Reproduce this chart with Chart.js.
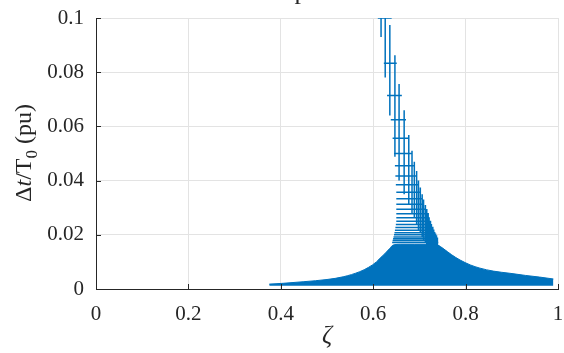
<!DOCTYPE html>
<html>
<head>
<meta charset="utf-8">
<script src="https://cdn.jsdelivr.net/npm/chart.js@4.4.0/dist/chart.umd.min.js"></script>
<style>
  html, body { margin: 0; padding: 0; background: #fff; }
  #wrap { width: 564px; height: 353px; }
</style>
</head>
<body>
<div id="wrap"><canvas id="plot"></canvas></div>
<script>
const xTicks = [0, 0.2, 0.4, 0.6, 0.8, 1];
const yTicks = [0, 0.02, 0.04, 0.06, 0.08, 0.1];

// dense part of the error bars, drawn as a filled band
const bandZeta   = [0.375, 0.405, 0.45, 0.50, 0.535, 0.571, 0.59, 0.607, 0.615, 0.625, 0.636, 0.643, 0.66, 0.69, 0.715, 0.728, 0.740, 0.751, 0.77, 0.788, 0.81, 0.831, 0.86, 0.896, 0.93, 0.96, 0.99];
const bandTop    = [0.0018, 0.0021, 0.0027, 0.0035, 0.0045, 0.0064, 0.008, 0.0100, 0.0114, 0.013, 0.0150, 0.0162, 0.0165, 0.0165, 0.0165, 0.0165, 0.0162, 0.0150, 0.0126, 0.0107, 0.0089, 0.0077, 0.0066, 0.0058, 0.0050, 0.0044, 0.0037];
const bandBottom = [0.0012, 0.0012, 0.0012, 0.0012, 0.0012, 0.0012, 0.0012, 0.0012, 0.0012, 0.0012, 0.0012, 0.0012, 0.0012, 0.0012, 0.0012, 0.0012, 0.0012, 0.0012, 0.0012, 0.0012, 0.0012, 0.0012, 0.0012, 0.0012, 0.0012, 0.0012, 0.0012];

// spike: points with both error bars (vertical bar at spikeZeta, horizontal bar at spikeDt)
const spikeZeta   = [0.617, 0.626, 0.636, 0.647, 0.656, 0.667, 0.677, 0.684, 0.689, 0.694, 0.698, 0.702, 0.706, 0.709, 0.713, 0.716, 0.719, 0.721, 0.724, 0.726, 0.729, 0.731, 0.733, 0.735, 0.737, 0.739];
const spikeDt     = [0.1, 0.1, 0.0833, 0.0714, 0.0625, 0.0556, 0.05, 0.0455, 0.0417, 0.0385, 0.0357, 0.0333, 0.0313, 0.0294, 0.0278, 0.0263, 0.025, 0.0238, 0.0227, 0.0217, 0.0208, 0.02, 0.0192, 0.0185, 0.0179, 0.0172];
const spikeDtLo   = [0.093, 0.078, 0.064, 0.0488, 0.040, 0.035, 0.031, 0.028, 0.026, 0.024, 0.022, 0.021, 0.019, 0.018, 0.017, 0.016, 0.015, 0.015, 0.014, 0.014, 0.013, 0.013, 0.012, 0.012, 0.012, 0.011];
const spikeDtHi   = [0.107, 0.122, 0.0974, 0.0863, 0.0756, 0.066, 0.0568, 0.051, 0.047, 0.0435, 0.040, 0.0375, 0.035, 0.033, 0.031, 0.0295, 0.028, 0.0265, 0.0252, 0.024, 0.023, 0.022, 0.021, 0.0205, 0.0198, 0.019];
const spikeZetaLo = [0.610, 0.612, 0.623, 0.630, 0.638, 0.642, 0.645, 0.647, 0.648, 0.649, 0.650, 0.650, 0.650, 0.650, 0.650, 0.650, 0.650, 0.649, 0.648, 0.647, 0.646, 0.645, 0.644, 0.643, 0.642, 0.641];
const spikeZetaHi = [0.636, 0.640, 0.651, 0.662, 0.671, 0.678, 0.685, 0.690, 0.695, 0.699, 0.703, 0.707, 0.710, 0.713, 0.717, 0.720, 0.722, 0.725, 0.727, 0.729, 0.731, 0.733, 0.735, 0.737, 0.739, 0.741];

const blue = '#0072BD';
const axisColor = '#262626';

function barSegments() {
  const pts = [];
  for (let i = 0; i < spikeZeta.length; i++) {
    pts.push({ x: spikeZeta[i], y: spikeDtLo[i] });
    pts.push({ x: spikeZeta[i], y: spikeDtHi[i] });
    pts.push({ x: spikeZeta[i], y: null });
    pts.push({ x: spikeZetaLo[i], y: spikeDt[i] });
    pts.push({ x: spikeZetaHi[i], y: spikeDt[i] });
    pts.push({ x: spikeZetaHi[i], y: null });
  }
  return pts;
}

const serif = '"Liberation Serif", "Times New Roman", serif';

// inward tick marks, axis titles and the clipped title
const decor = {
  id: 'decor',
  afterDraw(chart) {
    const ctx = chart.ctx;
    const xs = chart.scales.x, ys = chart.scales.y;
    const area = chart.chartArea;
    ctx.save();
    ctx.strokeStyle = axisColor;
    ctx.lineWidth = 1;
    ctx.beginPath();
    xTicks.forEach(v => {
      const px = Math.round(xs.getPixelForValue(v)) + 0.5;
      ctx.moveTo(px, area.bottom);
      ctx.lineTo(px, area.bottom - 5);
    });
    yTicks.forEach(v => {
      const py = Math.round(ys.getPixelForValue(v)) + 0.5;
      ctx.moveTo(area.left, py);
      ctx.lineTo(area.left + 5, py);
    });
    ctx.stroke();

    ctx.fillStyle = axisColor;
    ctx.textAlign = 'center';
    ctx.textBaseline = 'alphabetic';
    ctx.font = 'italic 25px ' + serif;
    ctx.fillText('ζ', (area.left + area.right) / 2, 343);

    // y title: Δt/T0 (pu), rotated
    ctx.translate(31, 153);
    ctx.rotate(-Math.PI / 2);
    const parts = [
      { t: 'Δ', f: '24px ' + serif, dy: 0 },
      { t: 't', f: 'italic 24px ' + serif, dy: 0 },
      { t: '/T', f: '24px ' + serif, dy: 0 },
      { t: '0', f: '17px ' + serif, dy: 6 },
      { t: ' (pu)', f: '24px ' + serif, dy: 0 }
    ];
    let total = 0;
    parts.forEach(p => { ctx.font = p.f; total += ctx.measureText(p.t).width; });
    let x = -total / 2;
    ctx.textAlign = 'left';
    parts.forEach(p => {
      ctx.font = p.f;
      ctx.fillText(p.t, x, p.dy);
      x += ctx.measureText(p.t).width;
    });
    ctx.restore();

    // title sits above the canvas, only the descender shows
    ctx.save();
    ctx.fillStyle = axisColor;
    ctx.font = '26px ' + serif;
    ctx.textAlign = 'center';
    ctx.fillText('p', 301, -1);
    ctx.restore();
  }
};

new Chart(document.getElementById('plot'), {
  type: 'line',
  data: {
    datasets: [
      {
        data: bandZeta.map((z, i) => ({ x: z, y: bandBottom[i] })),
        borderColor: blue, borderWidth: 0, pointRadius: 0, fill: false
      },
      {
        data: bandZeta.map((z, i) => ({ x: z, y: bandTop[i] })),
        borderColor: blue, borderWidth: 1, backgroundColor: blue,
        pointRadius: 0, fill: '-1', cubicInterpolationMode: 'monotone'
      },
      {
        data: barSegments(),
        borderColor: blue, borderWidth: 1.5, pointRadius: 0,
        fill: false, spanGaps: false
      }
    ]
  },
  options: {
    responsive: true,
    maintainAspectRatio: false,
    animation: false,
    layout: { padding: { left: 0, right: 6, top: 18, bottom: 0 } },
    plugins: { legend: { display: false }, tooltip: { enabled: false } },
    scales: {
      x: {
        type: 'linear', min: 0, max: 1,
        afterFit: s => { s.height = 64; s.paddingLeft = 0; s.paddingRight = 0; },
        afterBuildTicks: s => { s.ticks = xTicks.map(v => ({ value: v })); },
        grid: { color: '#e3e3e3', drawTicks: false },
        border: { display: true, color: axisColor, width: 1 },
        ticks: { padding: 13, color: axisColor, font: { family: serif, size: 21 }, maxRotation: 0,
                 callback: v => String(v) }
      },
      y: {
        type: 'linear', min: 0, max: 0.1,
        afterFit: s => { s.width = 96; s.paddingTop = 0; s.paddingBottom = 0; },
        afterBuildTicks: s => { s.ticks = yTicks.map(v => ({ value: v })); },
        grid: { color: '#e3e3e3', drawTicks: false },
        border: { display: true, color: axisColor, width: 1 },
        ticks: { padding: 12, color: axisColor, font: { family: serif, size: 21 },
                 callback: v => String(v) }
      }
    }
  },
  plugins: [decor]
});
</script>
</body>
</html>
